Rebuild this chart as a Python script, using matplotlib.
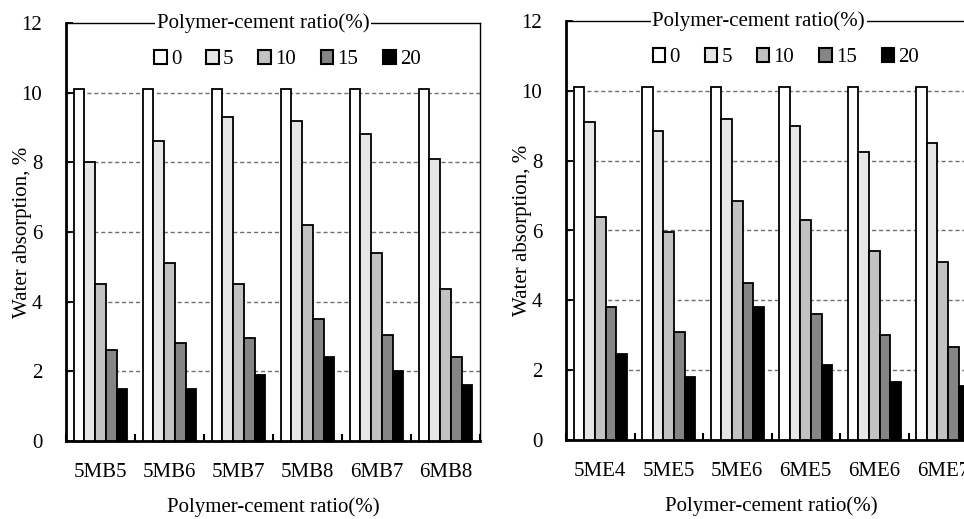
import matplotlib
matplotlib.use("Agg")
import matplotlib.pyplot as plt
import numpy as np

plt.rcParams['font.family'] = ['Liberation Serif', 'DejaVu Serif']

# 数据
ratios = ['0', '5', '10', '15', '20']
colors = ['#ffffff', '#e6e6e6', '#c2c2c2', '#858585', '#000000']

mb_names = ['5MB5', '5MB6', '5MB7', '5MB8', '6MB7', '6MB8']
mb_0 = [10.1, 10.1, 10.1, 10.1, 10.1, 10.1]
mb_5 = [8.0, 8.6, 9.3, 9.2, 8.8, 8.1]
mb_10 = [4.5, 5.1, 4.5, 6.2, 5.4, 4.35]
mb_15 = [2.6, 2.8, 2.95, 3.5, 3.05, 2.4]
mb_20 = [1.5, 1.5, 1.9, 2.4, 2.0, 1.6]

me_names = ['5ME4', '5ME5', '5ME6', '6ME5', '6ME6', '6ME7']
me_0 = [10.1, 10.1, 10.1, 10.1, 10.1, 10.1]
me_5 = [9.1, 8.85, 9.2, 9.0, 8.25, 8.5]
me_10 = [6.4, 5.95, 6.85, 6.3, 5.4, 5.1]
me_15 = [3.8, 3.1, 4.5, 3.6, 3.0, 2.65]
me_20 = [2.45, 1.8, 3.8, 2.15, 1.65, 1.55]

yticks = [0, 2, 4, 6, 8, 10, 12]
fs = 15

fig = plt.figure(figsize=(9.64, 5.19), dpi=100)
ax1 = fig.add_axes([66 / 964, 78 / 519, 414 / 964, 418 / 519])
ax2 = fig.add_axes([566 / 964, 79 / 519, 411 / 964, 419 / 519])


def draw(ax, names, series, title_x):
    x = np.arange(len(names))
    w = 0.155
    for i, vals in enumerate(series):
        ax.bar(x + (i - 2) * w, vals, width=w, color=colors[i],
               edgecolor='black', linewidth=1.3, label=ratios[i], zorder=3)
    ax.set_xlim(-0.5, len(names) - 0.5)
    ax.set_ylim(0, 12)
    ax.set_yticks(yticks)
    ax.tick_params(axis='y', direction='in', length=5, width=1.3,
                   pad=17, labelsize=fs)
    # 分组边界刻度
    ax.set_xticks(np.arange(len(names) + 1) - 0.5)
    ax.set_xticklabels([])
    ax.set_xticks(x, minor=True)
    ax.set_xticklabels(names, minor=True)
    ax.tick_params(axis='x', which='major', direction='in', length=5, width=1.5)
    ax.tick_params(axis='x', which='minor', length=0, pad=16, labelsize=fs)
    for y in [2, 4, 6, 8, 10]:
        ax.axhline(y, color='#707070', linestyle=(0, (3, 2)), linewidth=1.0, zorder=1)
    ax.spines['left'].set_linewidth(2.0)
    ax.spines['bottom'].set_linewidth(2.0)
    ax.spines['top'].set_linewidth(1.0)
    ax.spines['right'].set_linewidth(1.0)
    ax.set_ylabel('Water absorption, %', fontsize=fs)
    ax.yaxis.set_label_coords(-0.083, 0.5)
    ax.set_xlabel('Polymer-cement ratio(%)', fontsize=fs, labelpad=11)
    ax.text(title_x, 1.0, 'Polymer-cement ratio(%)', transform=ax.transAxes,
            ha='center', va='center', fontsize=fs, zorder=5,
            bbox=dict(facecolor='white', edgecolor='none', pad=1))
    leg = ax.legend(loc='center', bbox_to_anchor=(0.535, 0.912), ncol=5,
                    frameon=False, fontsize=fs, handlelength=0.6,
                    handleheight=0.6, handletextpad=0.2, columnspacing=1.2)
    for h in leg.legend_handles:
        h.set_linewidth(1.5)


draw(ax1, mb_names, [mb_0, mb_5, mb_10, mb_15, mb_20], 0.476)
draw(ax2, me_names, [me_0, me_5, me_10, me_15, me_20], 0.469)

fig.savefig('out.png', dpi=100)
